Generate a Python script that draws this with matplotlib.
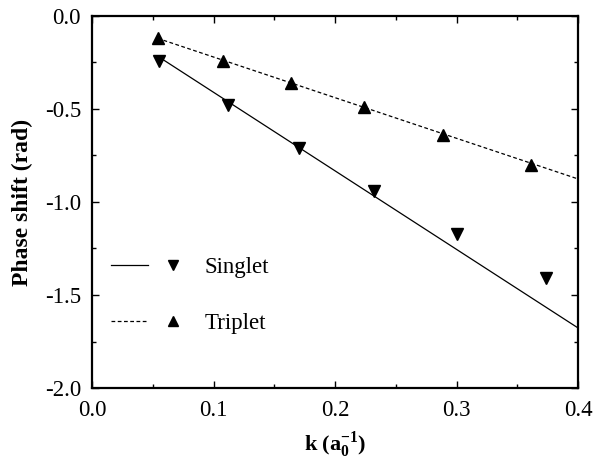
import matplotlib

matplotlib.use("Agg")
import matplotlib.pyplot as plt
from matplotlib.legend_handler import HandlerTuple
from matplotlib.lines import Line2D
from matplotlib.ticker import FormatStrFormatter, MultipleLocator

plt.rcParams["font.family"] = ["Liberation Serif", "DejaVu Serif"]
plt.rcParams["mathtext.fontset"] = "custom"
plt.rcParams["mathtext.rm"] = "Liberation Serif"
plt.rcParams["mathtext.bf"] = "Liberation Serif:bold"

# 数据
k_singlet = [0.055, 0.112, 0.170, 0.232, 0.300, 0.374]
ps_singlet = [-0.24, -0.48, -0.71, -0.94, -1.17, -1.41]
k_triplet = [0.054, 0.108, 0.164, 0.224, 0.289, 0.361]
ps_triplet = [-0.12, -0.24, -0.36, -0.49, -0.64, -0.80]

# 拟合直线端点
fit_k_singlet = [0.055, 0.4]
fit_singlet = [-0.22, -1.677]
fit_k_triplet = [0.054, 0.4]
fit_triplet = [-0.12, -0.876]

fig = plt.figure(figsize=(5.95, 4.62), dpi=100)
ax = fig.add_axes([92 / 595, 1 - 388 / 462, 486 / 595, 372 / 462])

ax.plot(fit_k_singlet, fit_singlet, "-", color="black", linewidth=0.9)
ax.plot(fit_k_triplet, fit_triplet, "--", color="black", linewidth=0.9, dashes=(3, 2))
ax.plot(k_singlet, ps_singlet, "v", color="black", markersize=9, linestyle="none")
ax.plot(k_triplet, ps_triplet, "^", color="black", markersize=9, linestyle="none")

ax.set_xlim(0.0, 0.4)
ax.set_ylim(-2.0, 0.0)
ax.xaxis.set_major_locator(MultipleLocator(0.1))
ax.xaxis.set_minor_locator(MultipleLocator(0.05))
ax.yaxis.set_major_locator(MultipleLocator(0.5))
ax.yaxis.set_minor_locator(MultipleLocator(0.25))
ax.xaxis.set_major_formatter(FormatStrFormatter("%.1f"))
ax.yaxis.set_major_formatter(FormatStrFormatter("%.1f"))
ax.tick_params(which="both", direction="in", top=True, right=True, labelsize=16.5, width=1.0)
ax.tick_params(which="major", length=5)
ax.tick_params(which="minor", length=3)
ax.tick_params(axis="x", pad=9)
ax.tick_params(axis="y", pad=8)
for s in ax.spines.values():
    s.set_linewidth(1.6)

ax.set_xlabel(r"k (a$_{\mathbf{0}}^{\mathbf{-1}}$)", fontsize=16, fontweight="bold", labelpad=6)
ax.set_ylabel("Phase shift (rad)", fontsize=17, fontweight="bold", labelpad=8)

h_s = (Line2D([], [], color="black", linewidth=0.9),
       Line2D([], [], marker="v", color="black", markersize=7, linestyle="none"))
h_t = (Line2D([], [], color="black", linewidth=0.9, linestyle="--", dashes=(3, 2)),
       Line2D([], [], marker="^", color="black", markersize=7, linestyle="none"))
ax.legend([h_s, h_t], ["Singlet", "Triplet"], handler_map={tuple: HandlerTuple(ndivide=None, pad=0.3)},
          loc="upper left", bbox_to_anchor=(0.02, 0.378), frameon=False, fontsize=16.5,
          handlelength=3.5, handletextpad=0.6, labelspacing=1.55, borderaxespad=0)

fig.savefig("out.png", dpi=100)
